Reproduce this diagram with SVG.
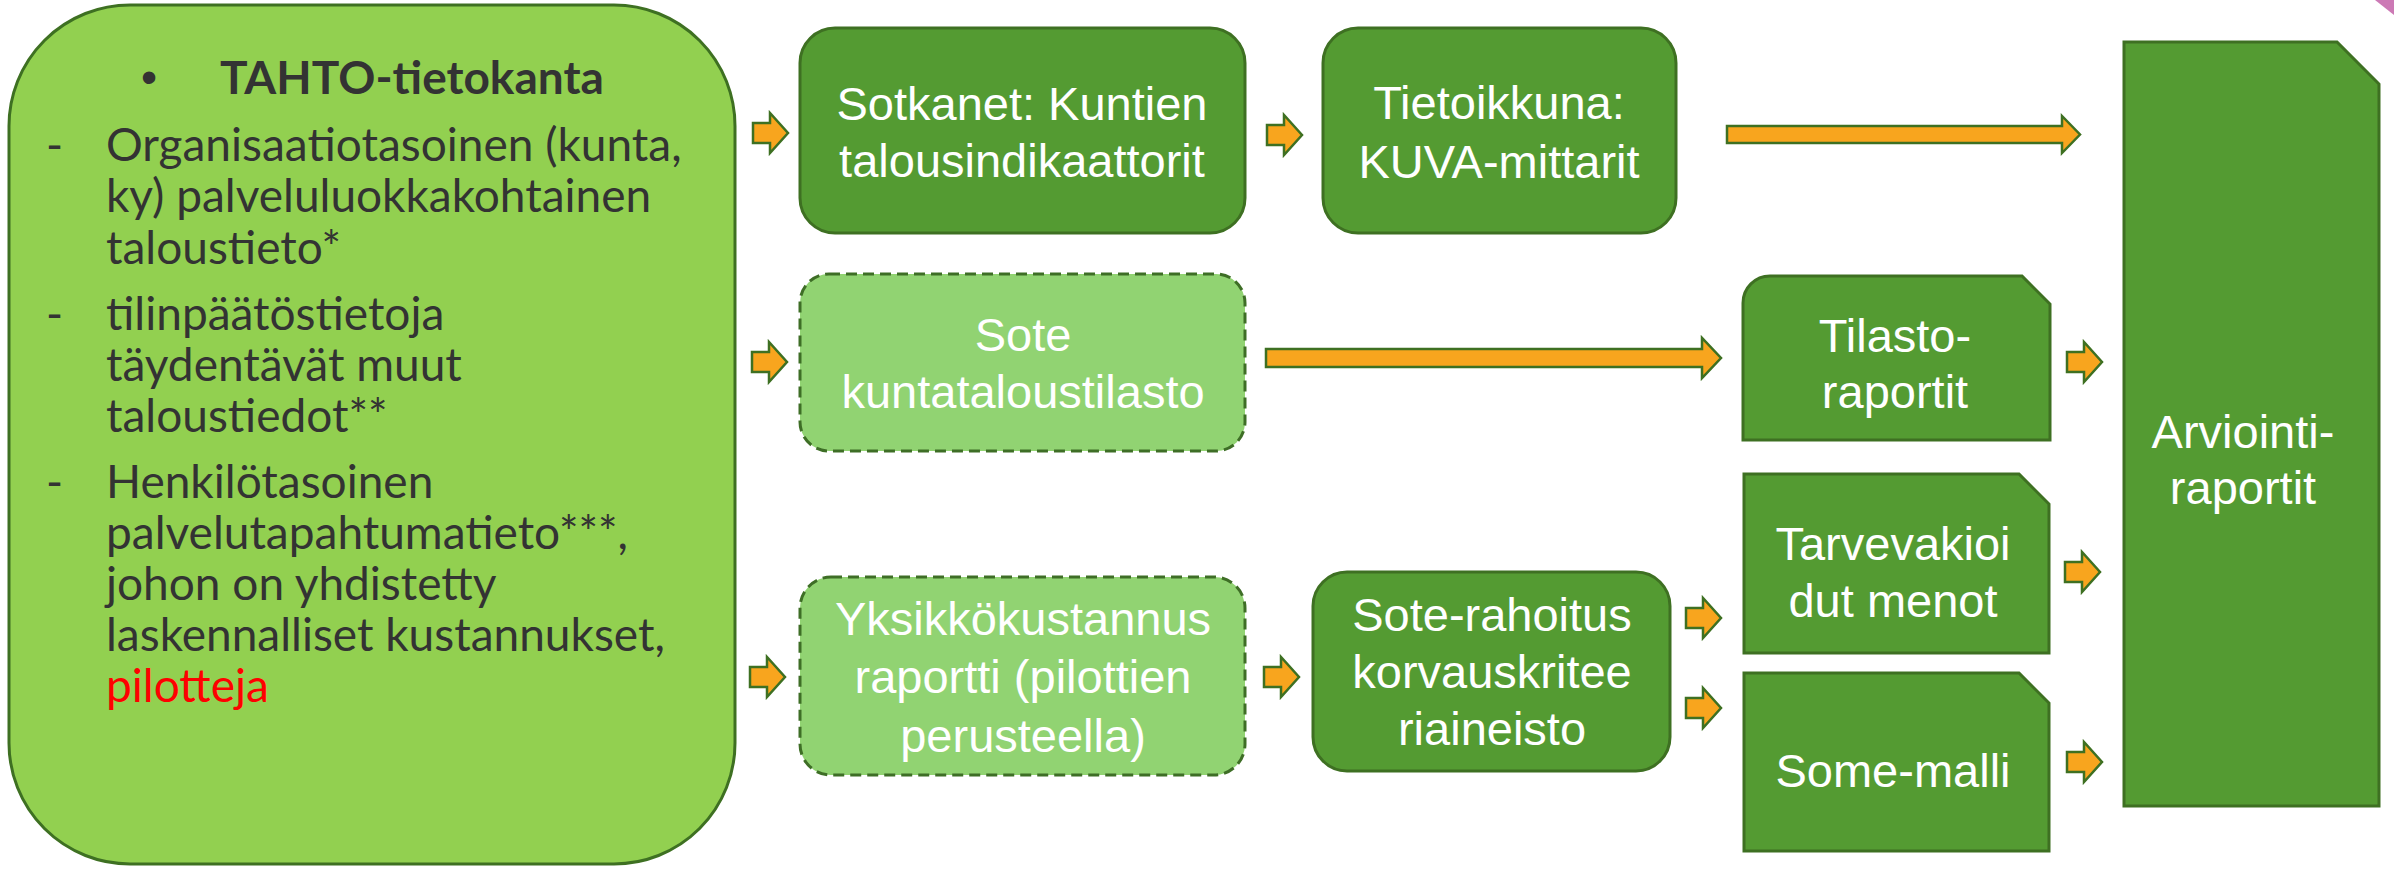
<svg xmlns="http://www.w3.org/2000/svg" xmlns:xlink="http://www.w3.org/1999/xlink" width="2394" height="869" viewBox="0 0 2394 869">
<style>
.dark{fill:#549B32;stroke:#3E7022;stroke-width:3}
.dash{fill:#91D372;stroke:#3E6E26;stroke-width:3;stroke-dasharray:11 6}
.big{fill:#92D050;stroke:#3E7022;stroke-width:3}
.arr{fill:#F8A51E;stroke:#3E7022;stroke-width:2.5;stroke-linejoin:miter}
.w{font-family:"Liberation Sans",Arial,sans-serif;font-size:47px;fill:#FFFFFF;text-anchor:middle}
.b{font-family:Lato,"Open Sans",sans-serif;font-size:46px;fill:#333333}
.bb{font-family:Lato,"Open Sans",sans-serif;font-size:46px;font-weight:bold;fill:#333333}
.bul{font-family:"Liberation Sans",Arial,sans-serif;font-size:46px;fill:#333333}
</style>
<defs>
<path id="sa" d="M0,-10 H17 V-20 L35,0 L17,20 V10 H0 Z"/>
</defs>
<rect width="2394" height="869" fill="#FFFFFF"/>
<polygon points="2375,0 2394,0 2394,15" fill="#CC79B5"/>

<g id="tahto">
<rect class="big" x="9" y="5" width="726" height="859" rx="121" ry="121"/>
<text class="bul" x="141" y="93">•</text>
<text class="bb" x="220" y="94">TAHTO-tietokanta</text>
<text class="b" x="46" y="161">-</text>
<text class="b" x="106" y="161">Organisaatiotasoinen (kunta,</text>
<text class="b" x="106" y="212">ky) palveluluokkakohtainen</text>
<text class="b" x="106" y="264">taloustieto*</text>
<text class="b" x="46" y="330">-</text>
<text class="b" x="106" y="330">tilinpäätöstietoja</text>
<text class="b" x="106" y="381">täydentävät muut</text>
<text class="b" x="106" y="432">taloustiedot**</text>
<text class="b" x="46" y="498">-</text>
<text class="b" x="106" y="498">Henkilötasoinen</text>
<text class="b" x="106" y="549">palvelutapahtumatieto***,</text>
<text class="b" x="106" y="600">johon on yhdistetty</text>
<text class="b" x="106" y="651">laskennalliset kustannukset,</text>
<text class="b" x="106" y="702" style="fill:#FF0000">pilotteja</text>
</g>

<g id="sotkanet">
<rect class="dark" x="800" y="28" width="445" height="205" rx="35" ry="35"/>
<text class="w" x="1022" y="120">Sotkanet: Kuntien</text>
<text class="w" x="1022" y="177">talousindikaattorit</text>
</g>

<g id="tietoikkuna">
<rect class="dark" x="1323" y="28" width="353" height="205" rx="35" ry="35"/>
<text class="w" x="1499" y="119">Tietoikkuna:</text>
<text class="w" x="1499" y="178">KUVA-mittarit</text>
</g>

<g id="sote-kuntatalous">
<rect class="dash" x="800" y="274" width="445" height="177" rx="29" ry="29"/>
<text class="w" x="1023" y="351">Sote</text>
<text class="w" x="1023" y="408">kuntataloustilasto</text>
</g>

<g id="yksikkokustannus">
<rect class="dash" x="800" y="577" width="445" height="198" rx="31" ry="31"/>
<text class="w" x="1023" y="635">Yksikkökustannus</text>
<text class="w" x="1023" y="693">raportti (pilottien</text>
<text class="w" x="1023" y="752">perusteella)</text>
</g>

<g id="sote-rahoitus">
<rect class="dark" x="1313" y="572" width="357" height="199" rx="34" ry="34"/>
<text class="w" x="1492" y="631">Sote-rahoitus</text>
<text class="w" x="1492" y="688">korvauskritee</text>
<text class="w" x="1492" y="745">riaineisto</text>
</g>

<g id="tilasto">
<path class="dark" d="M1743,303 A27,27 0 0 1 1770,276 H2022 L2050,304 V440 H1743 Z"/>
<text class="w" x="1895" y="352">Tilasto-</text>
<text class="w" x="1895" y="408">raportit</text>
</g>

<g id="tarvevakioidut">
<path class="dark" d="M1744,474 H2019 L2049,504 V653 H1744 Z"/>
<text class="w" x="1893" y="560">Tarvevakioi</text>
<text class="w" x="1893" y="617">dut menot</text>
</g>

<g id="some-malli">
<path class="dark" d="M1744,673 H2019 L2049,703 V851 H1744 Z"/>
<text class="w" x="1893" y="787">Some-malli</text>
</g>

<g id="arviointi">
<path class="dark" d="M2124,42 H2337 L2379,84 V806 H2124 Z"/>
<text class="w" x="2243" y="448">Arviointi-</text>
<text class="w" x="2243" y="504">raportit</text>
</g>

<g id="connectors">
<use xlink:href="#sa" href="#sa" class="arr" transform="translate(753,133)"/>
<use xlink:href="#sa" href="#sa" class="arr" transform="translate(1267,135)"/>
<use xlink:href="#sa" href="#sa" class="arr" transform="translate(752,362)"/>
<use xlink:href="#sa" href="#sa" class="arr" transform="translate(750,677)"/>
<use xlink:href="#sa" href="#sa" class="arr" transform="translate(1264,677)"/>
<use xlink:href="#sa" href="#sa" class="arr" transform="translate(1686,618)"/>
<use xlink:href="#sa" href="#sa" class="arr" transform="translate(1686,708)"/>
<use xlink:href="#sa" href="#sa" class="arr" transform="translate(2067,362)"/>
<use xlink:href="#sa" href="#sa" class="arr" transform="translate(2065,572)"/>
<use xlink:href="#sa" href="#sa" class="arr" transform="translate(2067,762)"/>
<path class="arr" d="M1727,126 H2062 V116 L2080,134.5 L2062,153 V143 H1727 Z"/>
<path class="arr" d="M1266,349 H1702 V338 L1721,358 L1702,378 V367 H1266 Z"/>
</g>
</svg>
